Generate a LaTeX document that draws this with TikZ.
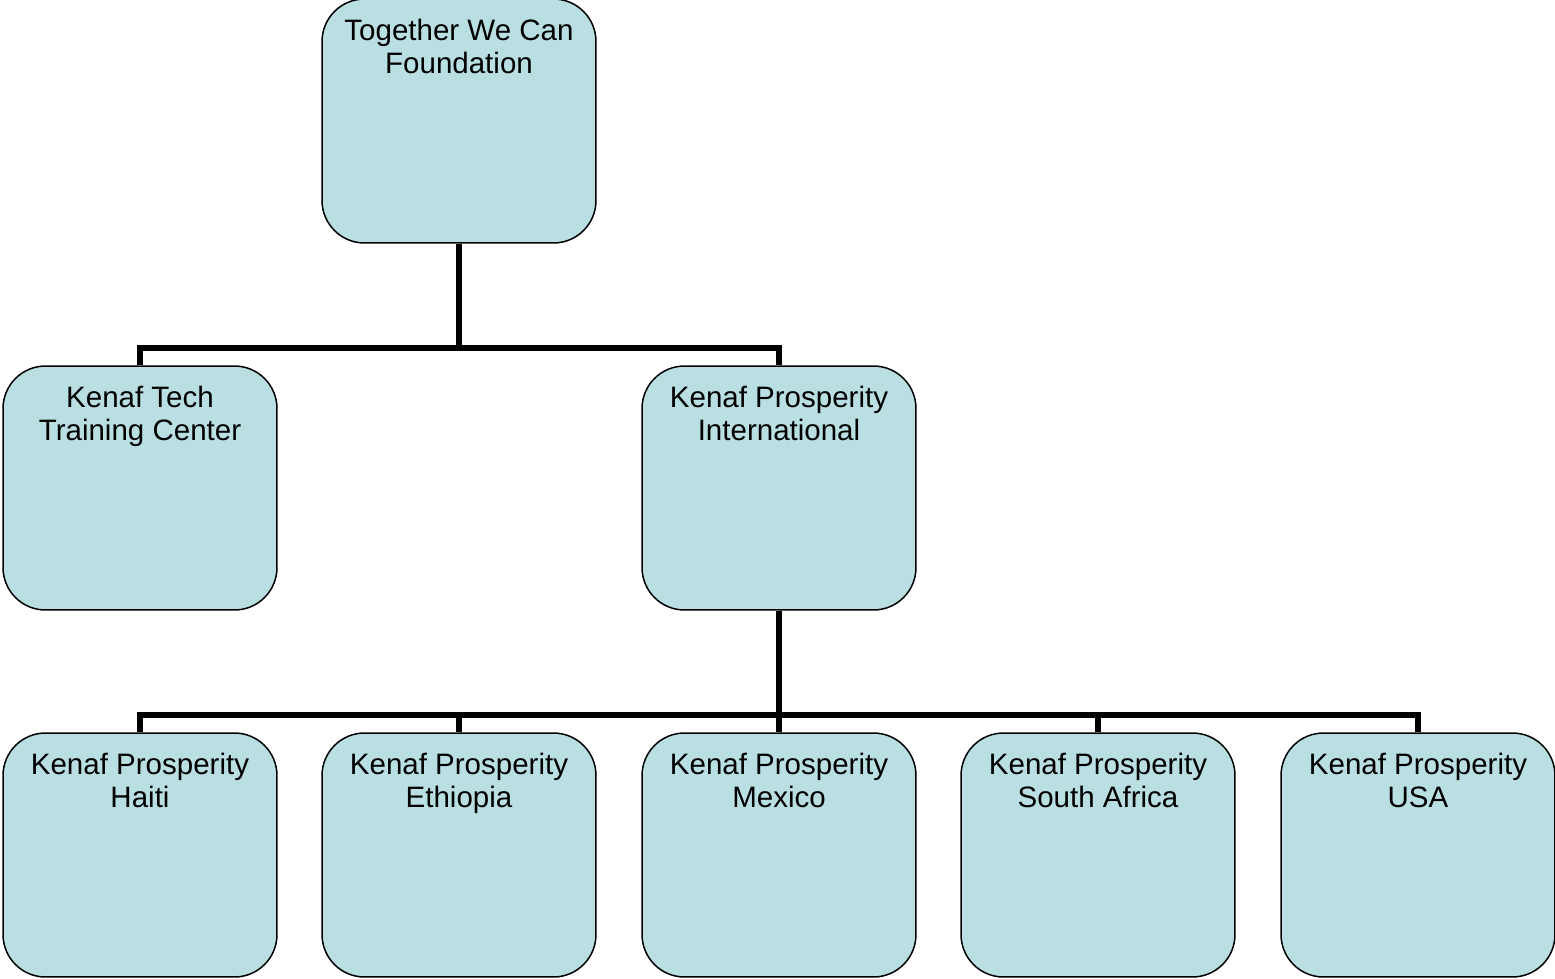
\documentclass[tikz,border=0pt]{standalone}
\usepackage{fontspec}
\setmainfont{Liberation Sans}
\definecolor{boxfill}{HTML}{B9DFE3}

\begin{document}
\begin{tikzpicture}[x=0.02cm,y=-0.02cm,font=\fontsize{16.8}{19.3}\selectfont]
\tikzset{unit/.style={draw=black,line width=0.85pt,fill=boxfill,rounded corners=0.85cm,
    minimum width=5.48cm,minimum height=4.88cm,inner sep=0pt,
    label={[anchor=north,align=center,inner sep=0pt,yshift=-0.4cm]north:{#1}}},
  link/.style={line width=3.2pt}}
\useasboundingbox (0,0) rectangle (1555,978);

\node[unit={Together We Can\\Foundation}] (twc) at (459,121) {};

\node[unit={Kenaf Tech\\Training Center}] (ktc) at (140,488) {};
\node[unit={Kenaf Prosperity\\International}] (kpi) at (779,488) {};

\node[unit={Kenaf Prosperity\\Haiti}] (kph) at (140,855) {};
\node[unit={Kenaf Prosperity\\Ethiopia}] (kpe) at (459,855) {};
\node[unit={Kenaf Prosperity\\Mexico}] (kpm) at (779,855) {};
\node[unit={Kenaf Prosperity\\South Africa}] (kpsa) at (1098,855) {};
\node[unit={Kenaf Prosperity\\USA}] (kpusa) at (1418,855) {};

% first level
\coordinate (fork1) at (459,348);
\draw[link] (twc.south) -- (fork1);
\draw[link] (ktc.north) |- (fork1) -| (kpi.north);

% country offices
\coordinate (fork2) at (779,715);
\draw[link] (kpi.south) -- (fork2);
\foreach \n in {kph,kpe,kpm,kpsa,kpusa}
  \draw[link] (\n.north) |- (fork2);
\end{tikzpicture}
\end{document}
